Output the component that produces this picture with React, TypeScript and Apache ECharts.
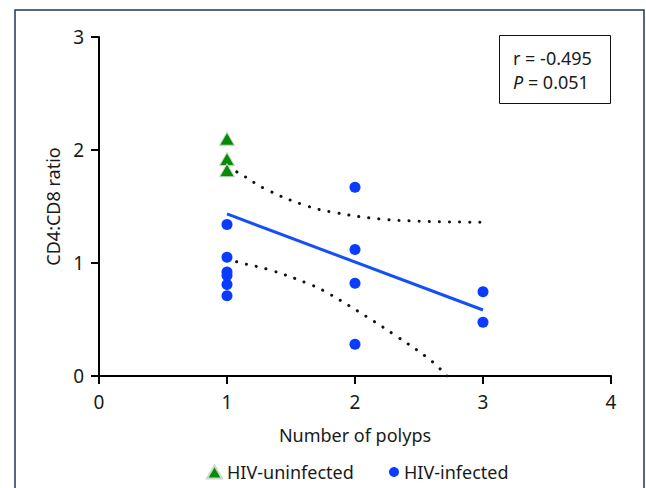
import React, { useEffect, useRef } from "react";
import * as echarts from "echarts";

// Data
const uninfected: [number, number][] = [
  [1, 2.1],
  [1, 1.92],
  [1, 1.82],
];
const infected: [number, number][] = [
  [1, 1.34],
  [1, 1.05],
  [1, 0.92],
  [1, 0.89],
  [1, 0.81],
  [1, 0.71],
  [2, 1.67],
  [2, 1.12],
  [2, 0.82],
  [2, 0.28],
  [3, 0.745],
  [3, 0.475],
];
const fitLine: [number, number][] = [
  [1, 1.434],
  [3, 0.584],
];
const upperBand: [number, number][] = [
  [1.0, 1.83],
  [1.07, 1.81],
  [1.3, 1.655],
  [1.61, 1.51],
  [1.85, 1.445],
  [2.19, 1.39],
  [2.5, 1.37],
  [2.99, 1.36],
];
const lowerBand: [number, number][] = [
  [1.0, 1.04],
  [1.09, 1.006],
  [1.33, 0.94],
  [1.65, 0.81],
  [1.8, 0.726],
  [2.09, 0.525],
  [2.31, 0.363],
  [2.59, 0.14],
  [2.72, 0.0],
];
const statR = "r = -0.495";
const statP = "0.051";
const xName = "Number of polyps";
const yName = "CD4:CD8 ratio";
const seriesNames = ["HIV-uninfected", "HIV-infected"];

const FONT = "Noto Sans";
const TXT = "#1a1a1a";

export default function App() {
  const ref = useRef<HTMLDivElement>(null);
  useEffect(() => {
    document.body.style.margin = "0";
    const chart = echarts.init(ref.current!, null, { renderer: "svg" });
    const dotted = {
      color: "#111",
      width: 3,
      type: [0.1, 10] as any,
      cap: "round" as any,
    };
    chart.setOption({
      animation: false,
      backgroundColor: "#fff",
      textStyle: { fontFamily: FONT, color: TXT },
      grid: {
        left: 99,
        right: 35,
        top: 37,
        bottom: 112,
        containLabel: false,
        outerBoundsMode: "none",
      },
      xAxis: {
        type: "value",
        min: 0,
        max: 4,
        interval: 1,
        name: xName,
        nameLocation: "middle",
        nameGap: 50,
        nameTextStyle: { fontSize: 18, color: TXT, fontFamily: FONT },
        axisLine: { show: true, lineStyle: { color: "#000", width: 2 } },
        axisTick: { show: true, length: 8, lineStyle: { color: "#000", width: 2 } },
        axisLabel: { fontSize: 19, color: TXT, margin: 16, fontFamily: FONT },
        splitLine: { show: false },
      },
      yAxis: {
        type: "value",
        min: 0,
        max: 3,
        interval: 1,
        name: yName,
        nameLocation: "middle",
        nameGap: 35,
        nameTextStyle: { fontSize: 18, color: TXT, fontFamily: FONT },
        axisLine: { show: true, lineStyle: { color: "#000", width: 2 } },
        axisTick: { show: true, length: 8, lineStyle: { color: "#000", width: 2 } },
        axisLabel: { fontSize: 19, color: TXT, margin: 15, fontFamily: FONT },
        splitLine: { show: false },
      },
      legend: [
        {
          data: [seriesNames[0]],
          left: 201,
          top: 458,
          itemWidth: 15,
          itemHeight: 13,
          textStyle: { fontSize: 18, color: TXT, fontFamily: FONT },
        },
        {
          data: [seriesNames[1]],
          left: 384,
          top: 458,
          itemWidth: 10,
          itemHeight: 10,
          itemGap: 0,
          textStyle: { fontSize: 18, color: TXT, fontFamily: FONT },
        },
      ],
      graphic: [
        {
          type: "rect",
          shape: { x: 15, y: 10, width: 629, height: 520 },
          style: { fill: "none", stroke: "#1f3560", lineWidth: 1.5 },
          silent: true,
        },
        {
          type: "rect",
          shape: { x: 499.5, y: 35.5, width: 111, height: 68 },
          style: { fill: "#fff", stroke: "#111", lineWidth: 1 },
          z: 10,
          silent: true,
        },
        {
          type: "text",
          x: 513,
          y: 58,
          z: 11,
          style: {
            text: statR,
            fontSize: 18,
            fontFamily: FONT,
            fill: TXT,
            verticalAlign: "middle",
          },
        },
        {
          type: "text",
          x: 513,
          y: 82,
          z: 11,
          style: {
            text: "{i|P} = " + statP,
            fontSize: 18,
            fontFamily: FONT,
            fill: TXT,
            verticalAlign: "middle",
            rich: {
              i: { fontStyle: "italic", fontSize: 18, fontFamily: FONT, fill: TXT },
            },
          },
        },
      ],
      series: [
        {
          type: "line",
          data: upperBand,
          smooth: 0.4,
          showSymbol: false,
          silent: true,
          lineStyle: dotted,
          z: 1,
        },
        {
          type: "line",
          data: lowerBand,
          smooth: 0.4,
          showSymbol: false,
          silent: true,
          lineStyle: dotted,
          z: 1,
        },
        {
          type: "line",
          data: fitLine,
          showSymbol: false,
          silent: true,
          lineStyle: { color: "#1450f5", width: 3 },
          z: 2,
        },
        {
          name: seriesNames[0],
          type: "scatter",
          data: uninfected,
          symbol: "triangle",
          symbolSize: [15, 13],
          itemStyle: { color: "#078a07", borderColor: "#c8d8c8", borderWidth: 1, opacity: 1 },
          z: 3,
        },
        {
          name: seriesNames[1],
          type: "scatter",
          data: infected,
          symbol: "circle",
          symbolSize: 11,
          itemStyle: { color: "#0a3cff", opacity: 1 },
          z: 3,
        },
      ],
    });
    return () => chart.dispose();
  }, []);
  return <div ref={ref} style={{ width: 646, height: 488 }} />;
}
